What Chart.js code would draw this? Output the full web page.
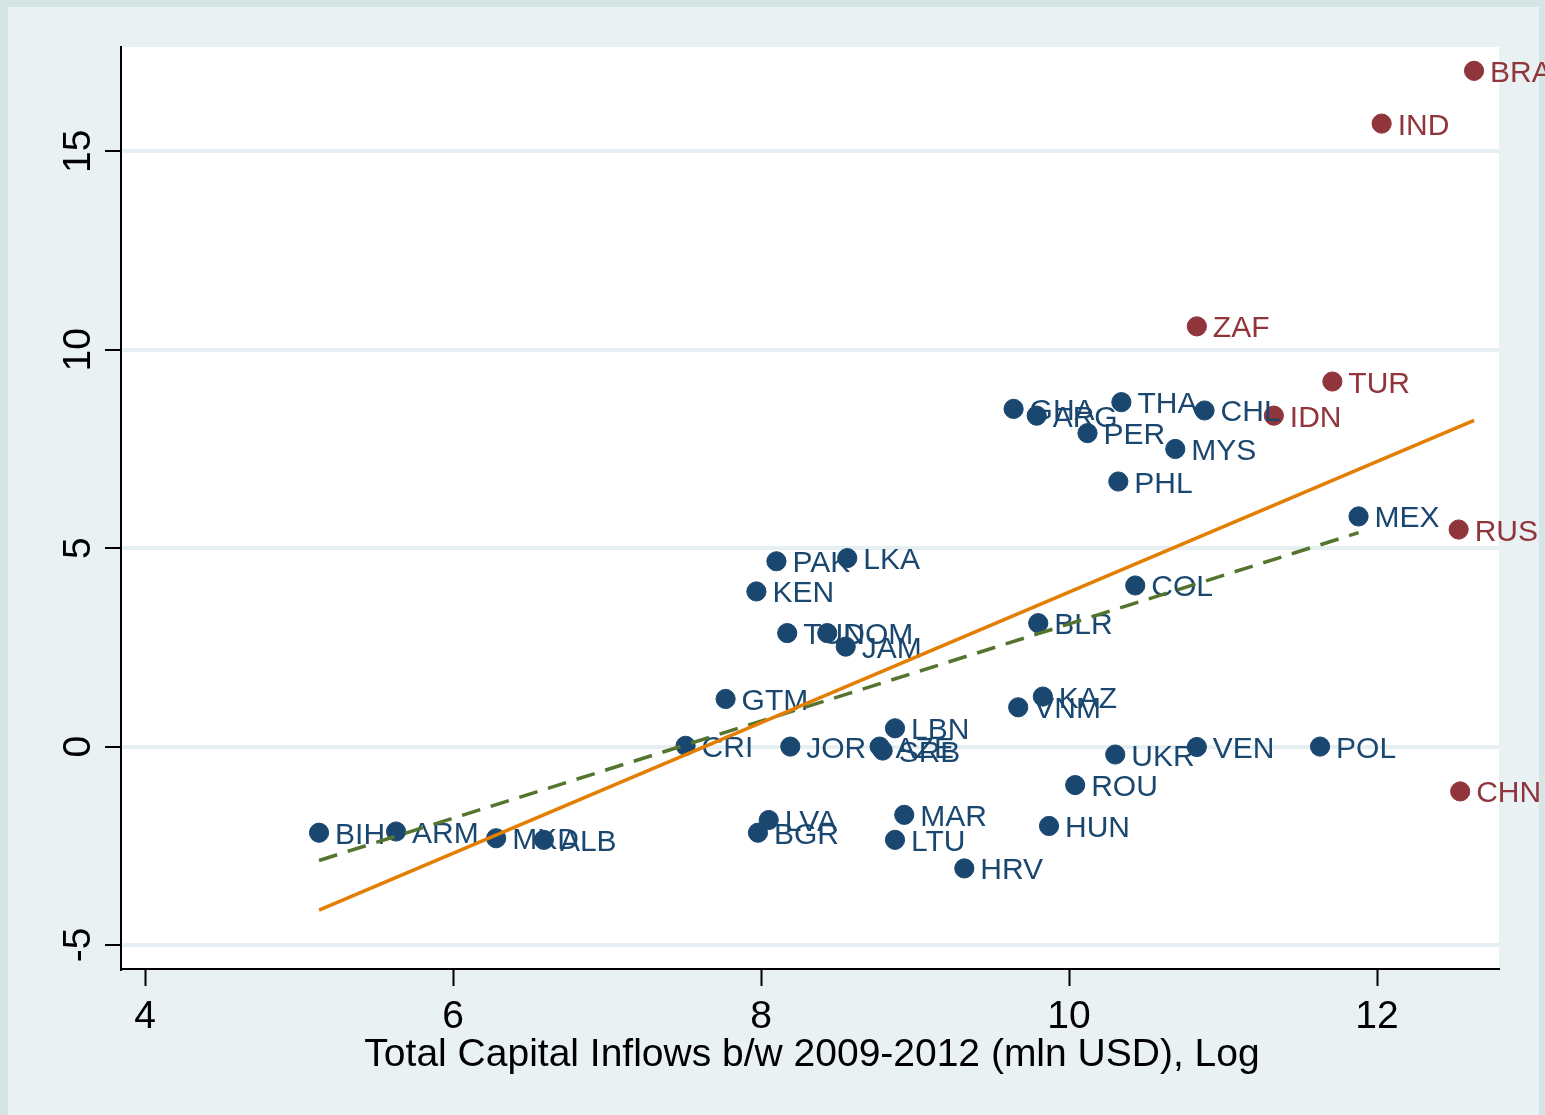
<!DOCTYPE html>
<html>
<head>
<meta charset="utf-8">
<title>Capital inflows scatter</title>
<script src="https://cdn.jsdelivr.net/npm/chart.js@4.4.0/dist/chart.umd.min.js"></script>
<style>
    html, body { margin: 0; padding: 0; background: #e9f1f3; }
    #wrap { width: 1545px; height: 1115px; }
</style>
</head>
<body>
<div id="wrap"><canvas id="chart" width="1545" height="1115"></canvas></div>
<script>
// --- data ---
const blueNames = ['GHA', 'ARG', 'THA', 'CHL', 'PER', 'MYS', 'PHL', 'MEX', 'PAK', 'LKA', 'KEN', 'COL',
    'TUN', 'DOM', 'JAM', 'BLR', 'GTM', 'KAZ', 'VNM', 'LBN', 'CRI', 'JOR', 'AZE', 'SRB', 'UKR', 'VEN',
    'POL', 'ROU', 'MAR', 'HUN', 'LVA', 'BGR', 'LTU', 'HRV', 'BIH', 'ARM', 'MKD', 'ALB'];
const blueX = [9.64, 9.79, 10.34, 10.88, 10.12, 10.69, 10.32, 11.88, 8.10, 8.56, 7.97, 10.43,
    8.17, 8.43, 8.55, 9.80, 7.77, 9.83, 9.67, 8.87, 7.51, 8.19, 8.77, 8.79, 10.30, 10.83,
    11.63, 10.04, 8.93, 9.87, 8.05, 7.98, 8.87, 9.32, 5.13, 5.63, 6.28, 6.59];
const blueY = [8.51, 8.34, 8.68, 8.47, 7.90, 7.50, 6.68, 5.80, 4.67, 4.75, 3.91, 4.06,
    2.86, 2.86, 2.52, 3.11, 1.20, 1.26, 0.99, 0.46, 0.02, 0.00, 0.00, -0.10, -0.20, -0.01,
    0.00, -0.97, -1.72, -2.00, -1.85, -2.17, -2.35, -3.07, -2.17, -2.14, -2.31, -2.35];

const redNames = ['BRA', 'IND', 'ZAF', 'TUR', 'IDN', 'RUS', 'CHN'];
const redX = [12.63, 12.03, 10.83, 11.71, 11.33, 12.53, 12.54];
const redY = [17.03, 15.70, 10.59, 9.20, 8.34, 5.47, -1.13];

// fitted lines (all countries / without the red group)
const fitAllX = [5.13, 12.63];
const fitAllY = [-4.12, 8.22];
const fitSubX = [5.13, 11.88];
const fitSubY = [-2.87, 5.39];

const xTicks = [4, 6, 8, 10, 12];
const yTicks = [-5, 0, 5, 10, 15];
const xTitle = 'Total Capital Inflows b/w 2009-2012 (mln USD), Log';

const FONT = '"Liberation Sans", Arial, sans-serif';
const NAVY = '#1a476f';
const MAROON = '#90353b';

function toPoints(xs, ys) {
    return xs.map((x, i) => ({ x: x, y: ys[i] }));
}

// frame, grey graph region and white plot region
const backgroundPlugin = {
    id: 'background',
    beforeDraw(chart) {
        const ctx = chart.ctx;
        const a = chart.chartArea;
        ctx.save();
        ctx.fillStyle = '#d5e5e5';
        ctx.fillRect(0, 0, chart.width, chart.height);
        ctx.fillStyle = '#e9f1f3';
        ctx.fillRect(8, 7, 1531, chart.height - 7);
        ctx.fillStyle = '#ffffff';
        ctx.fillRect(a.left, a.top, a.right - a.left, a.bottom - a.top);
        ctx.restore();
    }
};

// country names to the right of each marker
const labelPlugin = {
    id: 'pointLabels',
    afterDatasetDraw(chart, args) {
        const ds = chart.data.datasets[args.index];
        if (!ds.names) return;
        const ctx = chart.ctx;
        ctx.save();
        ctx.font = '30px ' + FONT;
        ctx.fillStyle = ds.backgroundColor;
        ctx.textAlign = 'left';
        ctx.textBaseline = 'alphabetic';
        args.meta.data.forEach((pt, i) => {
            ctx.fillText(ds.names[i], pt.x + 16, pt.y + 11);
        });
        ctx.restore();
    }
};

// tick labels (y rotated like Stata) and x title
const axisTextPlugin = {
    id: 'axisText',
    afterDraw(chart) {
        const ctx = chart.ctx;
        const xs = chart.scales.x;
        const ys = chart.scales.y;
        const a = chart.chartArea;
        ctx.save();
        ctx.fillStyle = '#000';
        ctx.font = '39px ' + FONT;
        ctx.textAlign = 'center';
        ctx.textBaseline = 'alphabetic';
        xTicks.forEach(v => {
            ctx.fillText(String(v), xs.getPixelForValue(v), a.bottom + 59);
        });
        yTicks.forEach(v => {
            ctx.save();
            ctx.translate(a.left - 31, ys.getPixelForValue(v));
            ctx.rotate(-Math.PI / 2);
            ctx.fillText(String(v), 0, 0);
            ctx.restore();
        });
        ctx.fillText(xTitle, (a.left + a.right) / 2 + 2, a.bottom + 97);
        ctx.restore();
    }
};

new Chart(document.getElementById('chart'), {
    type: 'scatter',
    data: {
        datasets: [
            {
                data: toPoints(fitAllX, fitAllY),
                showLine: true,
                borderColor: '#e37e00',
                borderWidth: 3.5,
                pointRadius: 0,
                fill: false
            },
            {
                data: toPoints(fitSubX, fitSubY),
                showLine: true,
                borderColor: '#55752f',
                borderWidth: 3.5,
                borderDash: [19, 11],
                pointRadius: 0,
                fill: false
            },
            {
                data: toPoints(blueX, blueY),
                names: blueNames,
                backgroundColor: NAVY,
                borderColor: NAVY,
                borderWidth: 1,
                pointRadius: 9.6
            },
            {
                data: toPoints(redX, redY),
                names: redNames,
                backgroundColor: MAROON,
                borderColor: MAROON,
                borderWidth: 1,
                pointRadius: 9.6
            }
        ]
    },
    options: {
        responsive: false,
        animation: false,
        devicePixelRatio: 1,
        layout: { padding: { top: 47, right: 46, left: 0, bottom: 0 } },
        plugins: {
            legend: { display: false },
            tooltip: { enabled: false },
            title: { display: false }
        },
        scales: {
            x: {
                type: 'linear',
                min: 3.844,
                max: 12.792,
                afterBuildTicks: s => { s.ticks = xTicks.map(v => ({ value: v })); },
                afterFit: s => { s.height = 146; },
                ticks: { display: false },
                grid: {
                    drawOnChartArea: false,
                    drawTicks: true,
                    tickLength: 17,
                    tickColor: '#000',
                    tickWidth: 2,
                    color: '#000'
                },
                border: { display: true, color: '#000', width: 2 }
            },
            y: {
                type: 'linear',
                min: -5.605,
                max: 17.63,
                afterBuildTicks: s => { s.ticks = yTicks.map(v => ({ value: v })); },
                afterFit: s => { s.width = 121; },
                ticks: { display: false },
                grid: {
                    color: '#e6eff1',
                    lineWidth: 4,
                    drawTicks: true,
                    tickLength: 16,
                    tickColor: '#000',
                    tickWidth: 2
                },
                border: { display: true, color: '#000', width: 2 }
            }
        }
    },
    plugins: [backgroundPlugin, labelPlugin, axisTextPlugin]
});
</script>
</body>
</html>
